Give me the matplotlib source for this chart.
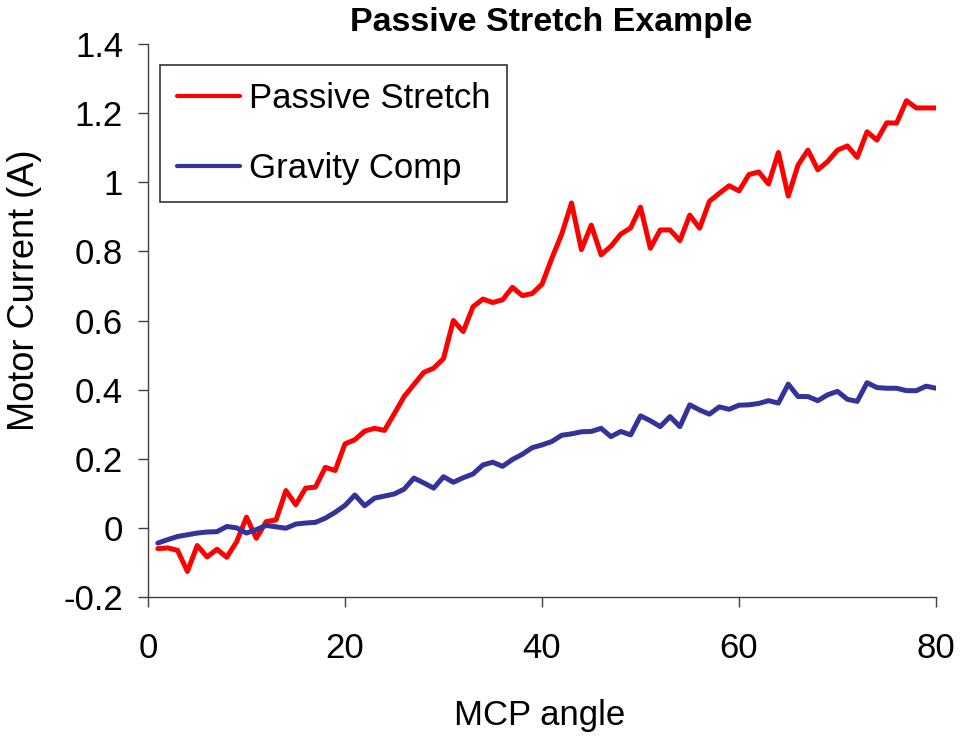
import matplotlib
matplotlib.use("Agg")
import matplotlib.pyplot as plt
import numpy as np

plt.rcParams['font.family'] = ['Liberation Sans', 'DejaVu Sans']

mcp_angle = list(range(1, 81))
passive_stretch = [
    -0.060, -0.058, -0.065, -0.126, -0.051, -0.084, -0.062, -0.085, -0.040, 0.031,
    -0.030, 0.018, 0.023, 0.108, 0.067, 0.115, 0.118, 0.175, 0.166, 0.243,
    0.255, 0.280, 0.288, 0.282, 0.330, 0.380, 0.415, 0.450, 0.462, 0.490,
    0.600, 0.568, 0.640, 0.662, 0.652, 0.660, 0.696, 0.672, 0.678, 0.705,
    0.780, 0.850, 0.940, 0.805, 0.876, 0.790, 0.815, 0.850, 0.868, 0.928,
    0.809, 0.862, 0.862, 0.831, 0.905, 0.867, 0.945, 0.968, 0.990, 0.975,
    1.022, 1.030, 0.995, 1.086, 0.960, 1.050, 1.093, 1.036, 1.060, 1.093,
    1.105, 1.072, 1.146, 1.122, 1.172, 1.171, 1.236, 1.215, 1.215, 1.215,
]
gravity_comp = [
    -0.044, -0.034, -0.025, -0.020, -0.015, -0.012, -0.011, 0.004, 0.000, -0.015,
    -0.005, 0.007, 0.003, -0.001, 0.011, 0.014, 0.016, 0.028, 0.045, 0.065,
    0.095, 0.064, 0.086, 0.092, 0.098, 0.112, 0.144, 0.130, 0.115, 0.148,
    0.132, 0.145, 0.156, 0.182, 0.190, 0.178, 0.198, 0.213, 0.232, 0.240,
    0.250, 0.268, 0.272, 0.278, 0.279, 0.288, 0.264, 0.279, 0.269, 0.324,
    0.310, 0.293, 0.322, 0.293, 0.356, 0.341, 0.329, 0.350, 0.343, 0.355,
    0.356, 0.360, 0.368, 0.361, 0.416, 0.380, 0.380, 0.368, 0.385, 0.395,
    0.372, 0.366, 0.420, 0.406, 0.404, 0.404, 0.397, 0.397, 0.410, 0.404,
]
x_ticks = [0, 20, 40, 60, 80]
y_ticks = [-0.2, 0, 0.2, 0.4, 0.6, 0.8, 1.0, 1.2, 1.4]
y_tick_labels = ["-0.2", "0", "0.2", "0.4", "0.6", "0.8", "1", "1.2", "1.4"]

W, H = 964, 738
FS = 25
fig = plt.figure(figsize=(W / 100, H / 100), dpi=100)
ax = fig.add_axes([148 / W, 1 - 597 / H, (936 - 148) / W, (597 - 44) / H])

ax.plot(mcp_angle, passive_stretch, color='#FF0000', lw=3.6, label='Passive Stretch',
        solid_joinstyle='round', solid_capstyle='round')
ax.plot(mcp_angle, gravity_comp, color='#333399', lw=3.6, label='Gravity Comp',
        solid_joinstyle='round', solid_capstyle='round')

ax.set_xlim(0, 80)
ax.set_ylim(-0.2, 1.4)
ax.set_xticks(x_ticks)
ax.set_xticklabels([str(t) for t in x_ticks])
ax.set_yticks(y_ticks)
ax.set_yticklabels(y_tick_labels)
ax.spines['top'].set_visible(False)
ax.spines['right'].set_visible(False)
for s in ('left', 'bottom'):
    ax.spines[s].set_color('#404040')
    ax.spines[s].set_linewidth(1.0)
ax.tick_params(axis='both', direction='out', length=7, width=1.0, color='#404040',
               labelsize=FS)
ax.tick_params(axis='x', pad=18)
ax.tick_params(axis='y', pad=11)

leg = ax.legend(loc='upper left', bbox_to_anchor=((160 - 148) / 788, (597 - 65) / 553),
                fontsize=FS, frameon=True, fancybox=False, edgecolor='black',
                handlelength=1.8, handletextpad=0.25, labelspacing=1.05,
                borderpad=0.5, borderaxespad=0)
leg.get_frame().set_linewidth(1.2)
for l in leg.get_lines():
    l.set_linewidth(3.0)

fig.text(551 / W, 1 - 23 / H, 'Passive Stretch Example', ha='center', va='center',
         fontsize=24.5, fontweight='bold')
fig.text(540 / W, 1 - 715 / H, 'MCP angle', ha='center', va='center', fontsize=FS)
fig.text(25 / W, 1 - 290 / H, 'Motor Current (A)', ha='center', va='center',
         fontsize=26, rotation=90)

fig.savefig('out.png', dpi=100)
